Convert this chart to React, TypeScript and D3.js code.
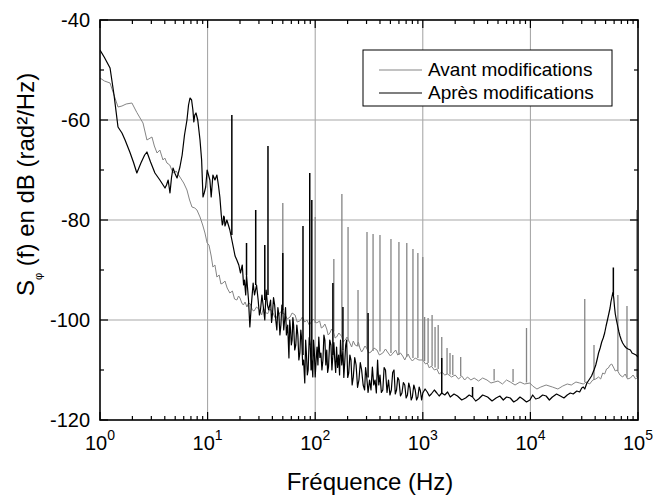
import React from 'react';
import * as d3 from 'd3';

// ---- data ----
const xTickExps = [0, 1, 2, 3, 4, 5];
const yTicks = [-120, -100, -80, -60, -40];
const yMinor = [-110, -90, -70, -50];

// Avant modifications : baseline [freq Hz, dB]
const avantBase: [number, number][] = [
  [1, -51.6], [1.1, -52.2], [1.24, -52.6], [1.35, -55], [1.47, -57.4], [1.6, -57.2], [1.75, -56.8], [1.98, -56.6],
  [2.2, -58.5], [2.51, -60.6], [2.73, -64], [3.04, -63.4], [3.2, -65.2], [3.39, -66.6], [3.6, -66], [3.85, -68],
  [4.0, -67.6], [4.19, -68.6], [4.45, -69], [4.77, -70.6], [5.1, -70.2], [5.53, -71.4], [6.0, -72.6], [6.43, -74],
  [6.8, -76], [7.16, -77.4], [7.6, -77.6], [7.96, -78], [8.5, -79.4], [9.0, -81], [9.45, -82.6], [9.9, -84.6],
  [10.3, -85], [10.8, -87.2], [11.2, -89.4], [11.7, -89], [12.2, -91.4], [12.8, -91], [13.3, -92.8], [13.9, -92.6],
  [14.5, -92.2], [15.2, -93.6], [16.1, -94.6], [17, -94.2], [17.8, -95.8], [18.7, -96], [19.4, -95.2], [20, -95.6],
  [20.8, -96.6], [21.5, -97], [22.3, -96.4], [23.2, -97.4], [24, -96.6], [25, -96.8], [26, -98], [27, -98.2],
  [28.5, -97.4], [30.5, -98], [31.8, -99], [33, -97.6], [34.5, -98.4], [36, -98.8], [38, -97.8], [40.6, -98.6],
  [42.5, -99.6], [45, -99.2], [47.5, -98.4], [52, -98.8], [55, -99.8], [58.4, -99.4], [61, -98.6], [65, -99],
  [68, -100.4], [72, -100.2], [76, -99.4], [80, -100.4], [83.9, -100], [88, -101], [92, -100.4], [96, -99.8],
  [103, -100.6], [110, -100.2], [114, -101.6], [118, -101.4], [123, -100.8], [128, -101.8], [132, -103], [137, -102.6],
  [142, -101.8], [148, -102.2], [153, -103.6], [158, -103.4], [166, -102.6], [175, -103.2], [182, -104.4], [190, -104],
  [198, -103.4], [210, -104.6], [218, -105.4], [226, -104.2], [235, -105], [245, -105.2], [252, -104.4], [260, -105.6],
  [270, -106.4], [278, -106], [290, -105.2], [300, -105.6], [315, -106.6], [330, -106.4], [352, -105.6], [375, -106],
  [395, -107], [425, -106.6], [450, -105.8], [470, -106.4], [500, -107.2], [530, -106.6], [560, -106], [585, -107],
  [620, -106.6], [650, -107.2], [680, -108], [700, -107.4], [730, -106.8], [760, -107.6], [800, -108.2], [850, -107.6],
  [920, -108], [1000, -108], [1060, -108.8], [1100, -108.6], [1150, -109.6], [1200, -109.2], [1280, -110], [1350, -109.8],
  [1420, -110.8], [1500, -110.4], [1600, -111], [1700, -110.8], [1850, -111.4], [2000, -111], [2150, -111.8], [2300, -111.2],
  [2450, -112], [2600, -111.4], [2800, -112], [3000, -111.6], [3300, -112.2], [3600, -111.6], [3950, -112], [4300, -112.6],
  [5000, -112.2], [5500, -112.8], [6000, -112], [6500, -112.4], [7200, -113], [8000, -112.4], [8800, -112.8], [9900, -112.6],
  [10500, -113.2], [11500, -113.8], [12500, -113.4], [14000, -113], [16000, -113.4], [18000, -113.8], [20000, -113.2],
  [22000, -112.8], [24000, -113], [26500, -112.4], [28700, -112.6], [31000, -112.8], [33000, -112.4], [35500, -112.8],
  [38000, -112], [40500, -111.8], [43000, -111.4], [45000, -111.8], [47000, -110.6], [49000, -110.8], [51000, -109.8],
  [53000, -109.6], [55000, -109], [57000, -108.8], [59000, -109.4], [61500, -110.2], [64000, -110], [68000, -111],
  [72000, -111.4], [76000, -110.8], [80000, -111.8], [85000, -111.6], [90000, -111], [95000, -111.8], [100000, -111.4],
];

// Avant modifications : spikes [freq Hz, peak dB, foot dB]
const avantSpikes: [number, number, number][] = [
  [50, -76.6, -98.8], [100, -79.4, -100.6], [149, -87.8, -102.3], [177, -74.8, -103.2], [202, -81.4, -104.3],
  [250, -94, -105.3], [303, -82.4, -105.7], [345, -82.8, -106.2], [400, -83, -106.3], [506, -83.8, -106.6],
  [600, -84.4, -107], [710, -84.6, -107.4], [810, -85.8, -107.6], [900, -86.6, -107.6], [1000, -87.4, -108],
  [1040, -99.4, -108.2], [1120, -99.6, -108.6], [1220, -99, -109.2], [1300, -101.4, -109.5], [1390, -101, -109.8],
  [1500, -103.4, -110.4], [1680, -105.6, -110.8], [1790, -106.6, -110.9], [1900, -107, -111], [2250, -107.4, -111.2],
  [4600, -109.8, -112.1], [6900, -109.8, -112.4], [9200, -101.6, -112.5], [32000, -95.8, -112.4], [39000, -105, -112],
  [65000, -95, -110.2], [79000, -97.2, -111.5], [97500, -78, -111.4],
];

// Après modifications : baseline [freq Hz, dB]
const apresBase: [number, number][] = [
  [1, -46], [1.1, -47.5], [1.24, -49.6], [1.35, -55], [1.47, -61.4], [1.6, -62.6], [1.71, -64], [1.9, -66.5],
  [2.05, -68.5], [2.2, -70.6], [2.4, -68.6], [2.6, -67], [2.73, -66.4], [2.95, -68.4], [3.24, -70.6], [3.6, -72],
  [4.02, -73.6], [4.15, -73], [4.3, -72], [4.47, -74.6], [4.62, -71.5], [4.77, -69.6], [5.0, -70.8], [5.2, -71.6],
  [5.53, -69.4], [5.8, -67], [6.1, -63], [6.43, -60], [6.65, -57], [6.86, -55.6], [7.1, -56], [7.3, -58],
  [7.45, -60.4], [7.6, -59], [7.8, -58.6], [8.1, -60], [8.5, -64], [8.8, -68], [9.06, -75.4], [9.3, -74.6],
  [9.6, -73.4], [9.9, -70], [10.2, -71], [10.5, -72], [10.8, -75.4], [11.2, -71], [11.7, -72], [12.2, -71],
  [12.6, -73], [13, -75.4], [13.4, -79], [13.7, -81], [13.9, -80.6], [14.1, -79.2], [14.3, -79.4], [14.5, -81.2],
  [14.7, -80.8], [15.1, -80], [15.6, -81], [16.1, -82], [17.4, -85.6], [18, -87.2], [18.7, -88], [19.5, -89],
  [20.2, -90.6], [21, -89], [21.6, -93], [22, -92], [22.6, -95], [23, -91], [24, -96], [24.7, -101.4],
  [25.5, -97], [26.5, -92.6], [27.3, -95], [28.5, -93], [29.5, -96], [30.3, -99], [31, -98], [32, -95],
  [33, -97.5], [34, -100], [35, -94], [36, -97], [37, -98], [38.5, -96], [39.3, -100.5], [40, -99],
  [41, -95.5], [42, -97], [43, -100], [44, -102], [45, -97.5], [46, -99], [47, -103], [48, -101],
  [49, -97], [50, -98], [51, -102], [52, -100], [53, -97.5], [54, -103], [55.5, -101], [57, -107.6],
  [58, -100], [59, -102], [60, -105], [61, -104], [62, -99.5], [63, -101], [64.5, -106], [66, -105],
  [67.5, -101], [69, -103], [70.5, -108], [72, -106.6], [73.5, -102], [75, -104], [76.5, -109], [78, -108],
  [80, -112.6], [81.5, -104], [83, -107], [84.5, -111], [86, -110], [88, -103.5], [90, -105], [91.5, -110],
  [93, -108], [95, -111.4], [96.5, -104], [98, -106], [100, -111.4], [102, -108], [104, -105.4], [106, -109],
  [108, -103.4], [110.5, -107.5], [113, -106.6], [115.5, -110], [118, -108], [120.5, -103], [123, -104], [125.5, -109],
  [128, -106], [130.5, -110.5], [133, -109.4], [136.5, -104], [140, -105], [143, -110], [146, -107], [149, -104.5],
  [152, -108], [155, -110.5], [158, -105.4], [161.5, -109.5], [165, -107], [168.5, -111], [172, -104], [176.5, -109],
  [181, -106], [184.5, -111.5], [188, -108.6], [192, -105], [196, -104], [200.5, -111.5], [205, -110.6], [210, -107],
  [215, -108], [220.5, -113], [226, -111.4], [233, -107.5], [240, -109], [247.5, -113.5], [255, -112], [262.5, -108.5],
  [270, -110], [279, -113], [288, -114], [294, -109.5], [300, -111], [310, -114.5], [320, -112], [330, -114],
  [340, -109.4], [350, -113], [360, -112], [370, -114.6], [380, -108], [390, -113], [400, -111], [412, -114.5],
  [425, -114], [437, -109.5], [450, -110], [465, -114.5], [480, -112], [495, -115], [510, -114], [525, -110.5],
  [540, -110], [555, -114.8], [570, -114], [585, -111.5], [600, -112], [620, -115.2], [640, -114.6], [660, -112.5],
  [680, -113], [700, -115.6], [720, -115], [740, -112.6], [760, -113.6], [780, -116], [800, -115.4], [825, -113],
  [850, -114], [875, -116], [900, -115.4], [925, -113.4], [950, -114.2], [975, -116], [1000, -114.6], [1050, -113.8],
  [1100, -114.4], [1150, -115.2], [1200, -114.8], [1280, -114], [1350, -114.6], [1420, -115.2], [1500, -114.6], [1600, -115],
  [1700, -114.4], [1800, -115.4], [1950, -114.8], [2100, -115.2], [2300, -116], [2500, -115.6], [2700, -115], [2900, -115.4],
  [3100, -116.2], [3300, -115.8], [3600, -115], [4000, -115.4], [4400, -116.2], [4800, -115.6], [5200, -115.2], [5600, -116],
  [6000, -115.4], [6500, -115.6], [7000, -116.4], [7500, -116], [8000, -115.4], [8500, -115.8], [9200, -116.4], [9900, -116],
  [10500, -115], [11200, -115.8], [12000, -115.6], [13000, -115], [14000, -115.2], [15000, -116], [16000, -115.4], [17500, -114.8],
  [19000, -115.2], [20500, -115.6], [22000, -115], [23500, -114.6], [25000, -114.8], [27000, -114.2], [28700, -114.4],
  [30000, -113.6], [31000, -113.4], [32000, -113.8], [33500, -112.6], [35000, -112], [36000, -111.6], [37000, -111.2],
  [38000, -110.6], [39000, -110], [40500, -109], [42000, -107.6], [43000, -106.6], [44500, -105.6], [46000, -104.4],
  [47500, -103.6], [49000, -102.6], [50500, -101.2], [52000, -100], [53500, -98.8], [55000, -97.6], [56000, -96.4],
  [57000, -95.6], [58000, -94.8], [58600, -94.5], [59500, -95.6], [60500, -97.4], [61500, -98.8], [63000, -100],
  [65000, -101.4], [66500, -102.4], [68000, -103.2], [70000, -104], [72000, -104.6], [75000, -105.2], [78000, -105.6],
  [81000, -105.8], [85000, -106], [88000, -106.6], [92000, -106.8], [96000, -107], [100000, -107.4],
];

// Après modifications : spikes [freq Hz, peak dB, foot dB]
const apresSpikes: [number, number, number][] = [
  [16.8, -59, -83], [23, -84.6, -91], [28, -78, -93], [34, -85, -96], [36.4, -65.2, -95], [50, -86.6, -98],
  [77, -81.2, -107], [89, -70.6, -105], [93, -76, -108], [146, -92.6, -107], [181, -97.4, -106], [310, -98.6, -111.5],
  [1500, -107.6, -114.6], [2900, -113.4, -115.4], [59000, -89.5, -95],
];

const series = [
  { name: 'Avant modifications', base: avantBase, spikes: avantSpikes, color: '#858585', width: 1 },
  { name: 'Après modifications', base: apresBase, spikes: apresSpikes, color: '#000000', width: 1.2 },
];

// ---- layout ----
const W = 653, H = 495;
const L = 100, R = 638, T = 20, B = 420;
const FONT = '"Liberation Sans", Arial, Helvetica, sans-serif';

export default function App() {
  const x = d3.scaleLog().domain([1, 1e5]).range([L, R]);
  const y = d3.scaleLinear().domain([-120, -40]).range([B, T]);
  const line = d3.line<[number, number]>().x(d => x(d[0])).y(d => y(d[1]));

  const spikePath = (sp: [number, number, number][]) =>
    sp.map(s => line([[s[0], s[2]], [s[0], s[1]]]) as string).join(' ');

  const xMinor: number[] = [];
  for (let e = 0; e < 5; e++) for (let k = 2; k <= 9; k++) xMinor.push(k * Math.pow(10, e));

  return (
    <svg width={W} height={H} style={{ position: 'absolute', left: 0, top: 0, background: '#fff' }} fontFamily={FONT}>
      <defs>
        <clipPath id="plot"><rect x={L} y={T} width={R - L} height={B - T} /></clipPath>
      </defs>
      <rect x={0} y={0} width={W} height={H} fill="#fff" />
      {/* grid */}
      {xTickExps.slice(1, -1).map(e => (
        <line key={'gx' + e} x1={x(Math.pow(10, e))} x2={x(Math.pow(10, e))} y1={T} y2={B} stroke="#a0a0a0" strokeWidth={1} />
      ))}
      {yTicks.slice(1, -1).map(v => (
        <line key={'gy' + v} x1={L} x2={R} y1={y(v)} y2={y(v)} stroke="#a8a8a8" strokeWidth={1.2} />
      ))}
      {/* series */}
      <g clipPath="url(#plot)" fill="none">
        {series.map(s => (
          <g key={s.name}>
            <path d={line(s.base) as string} stroke={s.color} strokeWidth={s.width} strokeLinejoin="round" />
            <path d={spikePath(s.spikes)} stroke={s.color} strokeWidth={s.width + 0.3} />
          </g>
        ))}
      </g>
      {/* ticks */}
      <g stroke="#000" strokeWidth={1.2}>
        {xTickExps.map(e => {
          const px = x(Math.pow(10, e));
          return (
            <g key={'tx' + e}>
              <line x1={px} x2={px} y1={B} y2={B - 8} />
              <line x1={px} x2={px} y1={T} y2={T + 8} />
            </g>
          );
        })}
        {xMinor.map(f => (
          <g key={'mx' + f}>
            <line x1={x(f)} x2={x(f)} y1={B} y2={B - 4} />
            <line x1={x(f)} x2={x(f)} y1={T} y2={T + 4} />
          </g>
        ))}
        {yTicks.map(v => (
          <g key={'ty' + v}>
            <line x1={L} x2={L + 8} y1={y(v)} y2={y(v)} />
            <line x1={R} x2={R - 8} y1={y(v)} y2={y(v)} />
          </g>
        ))}
        {yMinor.map(v => (
          <g key={'my' + v}>
            <line x1={L} x2={L + 4} y1={y(v)} y2={y(v)} />
            <line x1={R} x2={R - 4} y1={y(v)} y2={y(v)} />
          </g>
        ))}
      </g>
      {/* frame */}
      <rect x={L} y={T} width={R - L} height={B - T} fill="none" stroke="#000" strokeWidth={1.6} />
      {/* tick labels */}
      {yTicks.map(v => (
        <text key={'ly' + v} x={90} y={y(v) + 7} textAnchor="end" fontSize={20} fill="#000">{v}</text>
      ))}
      {xTickExps.map(e => (
        <text key={'lx' + e} x={x(Math.pow(10, e))} y={450} textAnchor="middle" fontSize={20} fill="#000">
          10<tspan dy={-10} fontSize={14}>{e}</tspan>
        </text>
      ))}
      {/* axis titles */}
      <text x={370} y={490} textAnchor="middle" fontSize={24} fill="#000">Fréquence (Hz)</text>
      <text transform="translate(34,296) rotate(-90)" fontSize={24} fill="#000">
        S<tspan dy={8} fontSize={11}>φ</tspan><tspan dy={-8}> (f) en dB (rad²/Hz)</tspan>
      </text>
      {/* legend */}
      <rect x={363} y={50} width={249} height={56} fill="#fff" stroke="#000" strokeWidth={1} />
      {series.map((s, i) => (
        <g key={'lg' + i}>
          <line x1={379} x2={422} y1={70 + i * 23} y2={70 + i * 23} stroke={s.color} strokeWidth={s.width} />
          <text x={428} y={76 + i * 23} fontSize={19} fill="#000">{s.name}</text>
        </g>
      ))}
    </svg>
  );
}
